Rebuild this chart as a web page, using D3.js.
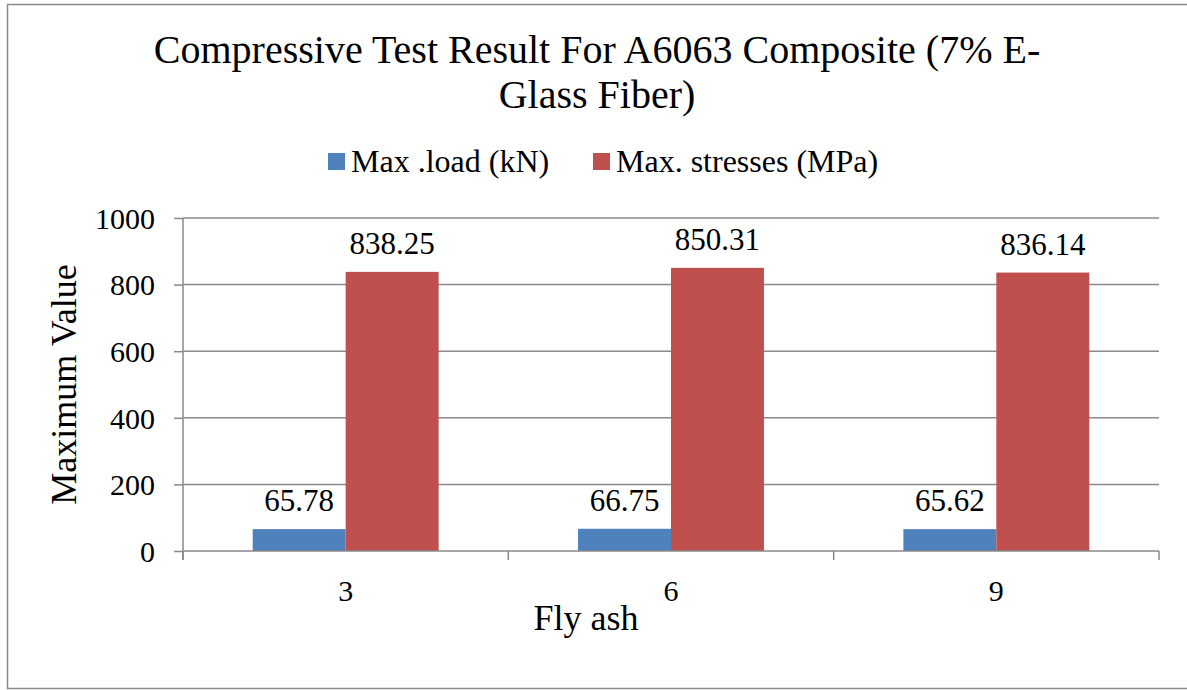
<!DOCTYPE html>
<html><head><meta charset="utf-8">
<script src="https://cdn.jsdelivr.net/npm/d3@7"></script>
<style>
html,body{margin:0;padding:0;background:#fff;}
text{font-family:"Liberation Serif","Times New Roman",serif;fill:#000;}
</style></head>
<body>
<svg id="chart" width="1187" height="690"></svg>
<script>
const categories = ["3", "6", "9"];
const seriesNames = ["Max .load (kN)", "Max. stresses (MPa)"];
const maxLoad = [65.78, 66.75, 65.62];
const maxStress = [838.25, 850.31, 836.14];
const yTicks = [0, 200, 400, 600, 800, 1000];
const colors = ["#4F81BD", "#C0504D"];
const titleLines = ["Compressive Test Result For A6063 Composite (7% E-", "Glass Fiber)"];
const xTitle = "Fly ash";
const yTitle = "Maximum Value";

const svg = d3.select("#chart");
svg.append("rect").attr("x", 7.5).attr("y", 4.5).attr("width", 1190).attr("height", 684)
  .attr("fill", "#fff").attr("stroke", "#8a8a8a").attr("stroke-width", 1.5);

const pL = 183, pR = 1159, pT = 218, pB = 551;
const x0 = d3.scaleBand().domain(categories).range([pL, pR]).paddingInner(0).paddingOuter(0);
const seriesData = [maxLoad, maxStress];
const x1 = d3.scaleBand().domain([0, 1]).range([0, x0.bandwidth()]).paddingInner(0).paddingOuter(0.75);
const y = d3.scaleLinear().domain([0, 1000]).range([pB, pT]);

// gridlines
svg.append("g").selectAll("line").data(yTicks.filter(t => t > 0)).join("line")
  .attr("x1", pL).attr("x2", pR).attr("y1", d => y(d)).attr("y2", d => y(d))
  .attr("stroke", "#8a8a8a").attr("stroke-width", 1.5);

// y axis
const yAxis = svg.append("g").attr("transform", `translate(${pL},0)`)
  .call(d3.axisLeft(y).tickValues(yTicks).tickSize(9).tickPadding(19).tickFormat(d3.format("d")));
yAxis.select(".domain").attr("stroke", "#8a8a8a").attr("stroke-width", 1.5).attr("d", `M0,${pT}V${pB + 9}`);
yAxis.selectAll(".tick line").attr("stroke", "#8a8a8a").attr("stroke-width", 1.5);
yAxis.selectAll(".tick text").attr("font-size", 30).attr("font-family", "Liberation Serif").attr("fill", "#000").attr("dy", "0.34em");

// bars
const groups = svg.append("g").selectAll("g").data(categories).join("g")
  .attr("transform", d => `translate(${x0(d)},0)`);
groups.selectAll("rect").data((d, i) => seriesData.map((s, k) => ({k, v: s[i]}))).join("rect")
  .attr("x", d => x1(d.k)).attr("width", x1.bandwidth())
  .attr("y", d => y(d.v)).attr("height", d => y(0) - y(d.v))
  .attr("fill", d => colors[d.k]);
groups.selectAll("text.lbl").data((d, i) => seriesData.map((s, k) => ({k, v: s[i]}))).join("text")
  .attr("class", "lbl")
  .attr("x", d => x1(d.k) + x1.bandwidth() / 2).attr("y", d => y(d.v) - 18)
  .attr("text-anchor", "middle").attr("font-size", 31)
  .text(d => d.v.toFixed(2));

// x axis
const xAxis = svg.append("g").attr("transform", `translate(0,${pB})`)
  .call(d3.axisBottom(x0).tickSize(0).tickPadding(29));
xAxis.select(".domain").remove();
xAxis.selectAll(".tick text").attr("font-size", 30).attr("font-family", "Liberation Serif").attr("fill", "#000").attr("dy", "0.71em");
svg.append("line").attr("x1", pL).attr("x2", pR).attr("y1", pB).attr("y2", pB)
  .attr("stroke", "#8a8a8a").attr("stroke-width", 1.5);
const bounds = categories.map(c => x0(c)).concat([pR]);
svg.append("g").selectAll("line").data(bounds).join("line")
  .attr("x1", d => d).attr("x2", d => d).attr("y1", pB).attr("y2", pB + 9)
  .attr("stroke", "#8a8a8a").attr("stroke-width", 1.5);

// titles
svg.append("g").selectAll("text").data(titleLines).join("text")
  .attr("x", 597).attr("y", (d, i) => 63 + i * 45).attr("text-anchor", "middle")
  .attr("font-size", 40).text(d => d);
svg.append("text").attr("x", 586).attr("y", 630).attr("text-anchor", "middle")
  .attr("font-size", 36).text(xTitle);
svg.append("text").attr("transform", `translate(76,${(pT + pB) / 2}) rotate(-90)`)
  .attr("text-anchor", "middle").attr("font-size", 36).text(yTitle);

// legend
const legendX = [328, 593];
const lg = svg.append("g").selectAll("g").data(seriesNames).join("g")
  .attr("transform", (d, i) => `translate(${legendX[i]},0)`);
lg.append("rect").attr("x", 0).attr("y", 153).attr("width", 17).attr("height", 17).attr("fill", (d, i) => colors[i]);
lg.append("text").attr("x", 23).attr("y", 172).attr("font-size", 32).text(d => d);
</script>
</body></html>
